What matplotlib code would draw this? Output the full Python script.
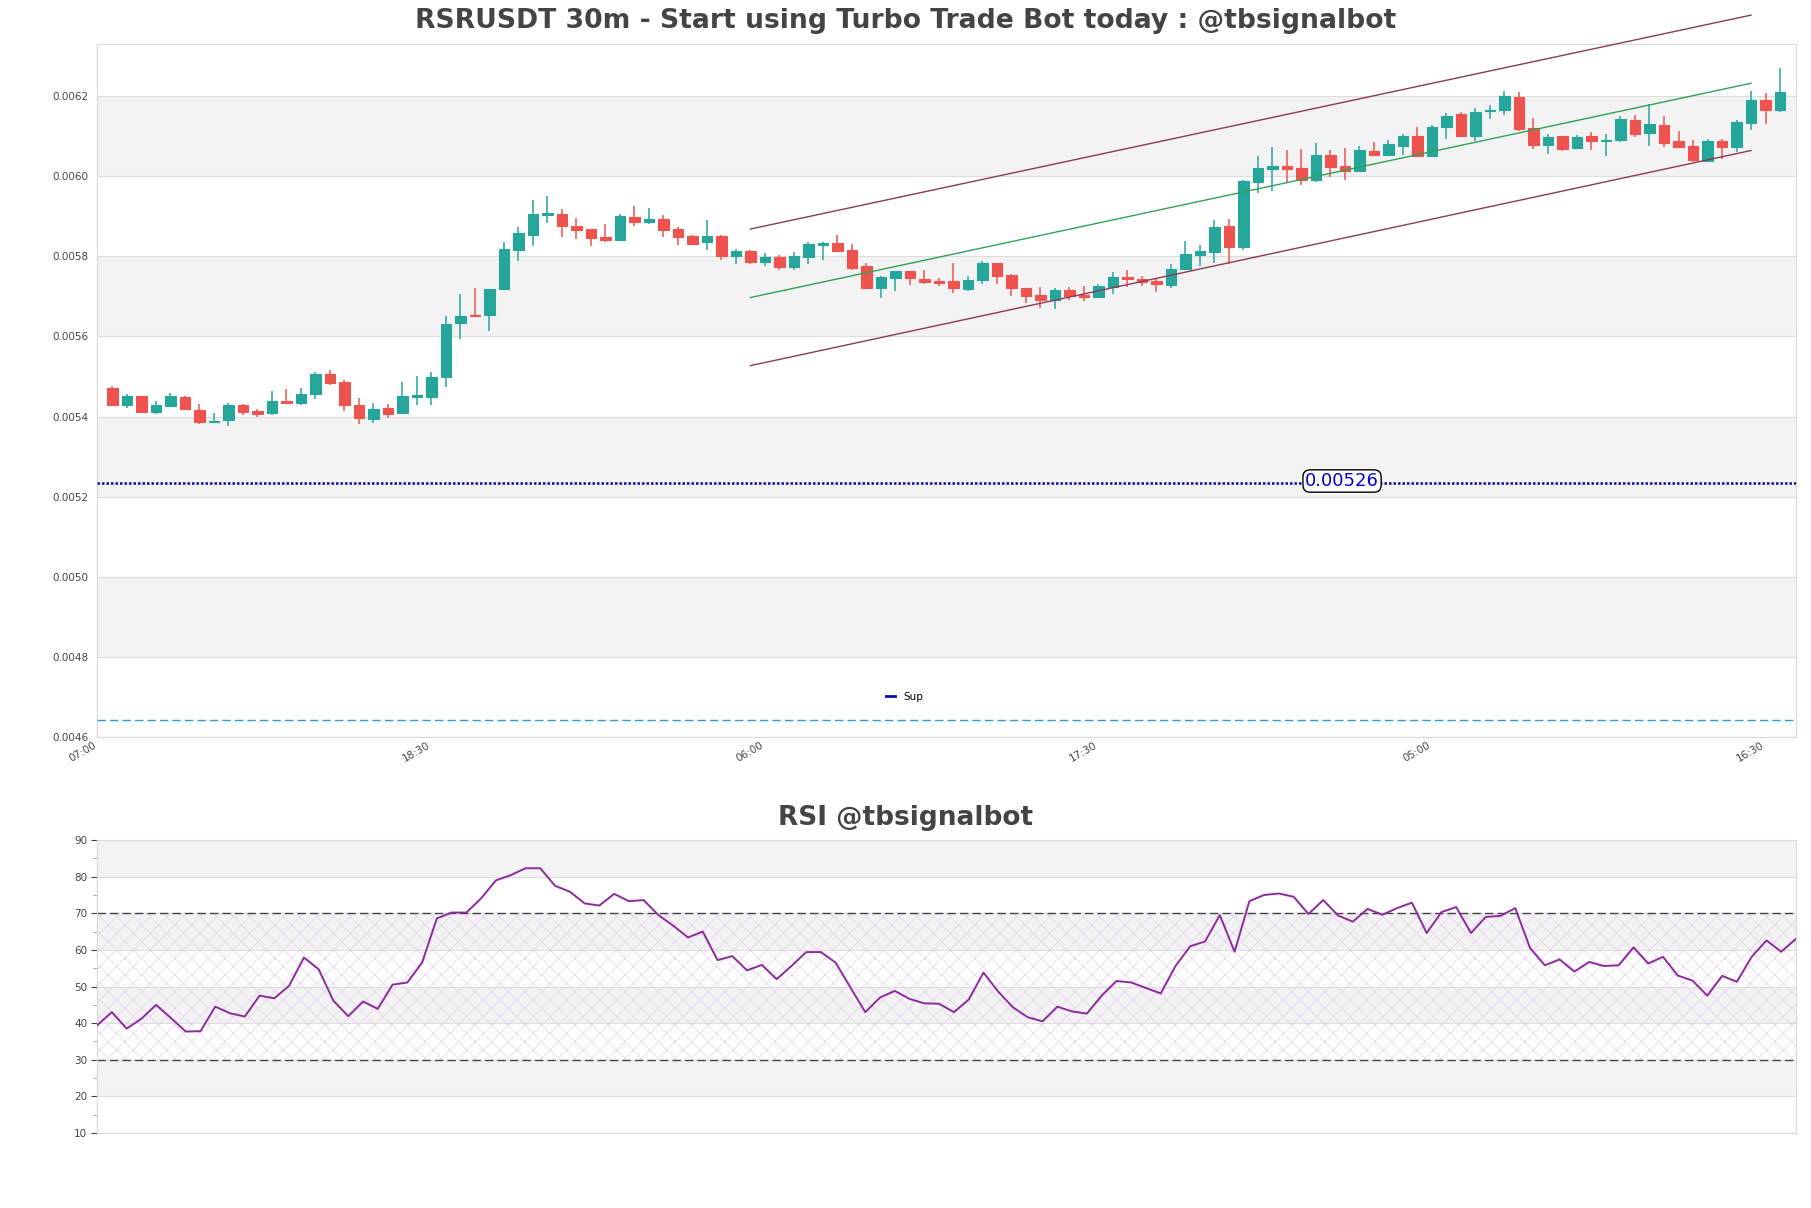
import numpy as np
import matplotlib
matplotlib.use('Agg')
import matplotlib.pyplot as plt
from matplotlib.lines import Line2D


# candle data (30m)
opens = [0.005470, 0.005428, 0.005450, 0.005411, 0.005426, 0.005448, 0.005417, 0.005386, 0.005391, 0.005428,
         0.005413, 0.005408, 0.005440, 0.005433, 0.005456, 0.005507, 0.005487, 0.005430, 0.005393, 0.005422,
         0.005408, 0.005448, 0.005448, 0.005498, 0.005633, 0.005653, 0.005653, 0.005718, 0.005816, 0.005853,
         0.005902, 0.005905, 0.005875, 0.005867, 0.005848, 0.005840, 0.005898, 0.005885, 0.005893, 0.005867,
         0.005850, 0.005836, 0.005850, 0.005801, 0.005813, 0.005786, 0.005798, 0.005773, 0.005798, 0.005828,
         0.005833, 0.005815, 0.005775, 0.005721, 0.005746, 0.005763, 0.005743, 0.005738, 0.005738, 0.005718,
         0.005741, 0.005783, 0.005753, 0.005720, 0.005703, 0.005691, 0.005715, 0.005703, 0.005698, 0.005723,
         0.005748, 0.005743, 0.005738, 0.005728, 0.005768, 0.005803, 0.005810, 0.005875, 0.005823, 0.005985,
         0.006018, 0.006025, 0.006020, 0.005990, 0.006053, 0.006025, 0.006013, 0.006063, 0.006053, 0.006075,
         0.006100, 0.006051, 0.006122, 0.006155, 0.006100, 0.006163, 0.006165, 0.006198, 0.006120, 0.006078,
         0.006100, 0.006070, 0.006100, 0.006088, 0.006090, 0.006140, 0.006108, 0.006128, 0.006088, 0.006075,
         0.006038, 0.006088, 0.006073, 0.006133, 0.006190, 0.006165]
highs = [0.005475, 0.005455, 0.005452, 0.005439, 0.005458, 0.005450, 0.005432, 0.005410, 0.005435, 0.005432,
         0.005419, 0.005463, 0.005468, 0.005470, 0.005512, 0.005515, 0.005492, 0.005447, 0.005435, 0.005432,
         0.005485, 0.005500, 0.005510, 0.005652, 0.005705, 0.005720, 0.005719, 0.005835, 0.005873, 0.005940,
         0.005951, 0.005917, 0.005895, 0.005867, 0.005880, 0.005905, 0.005925, 0.005920, 0.005902, 0.005872,
         0.005852, 0.005890, 0.005852, 0.005818, 0.005816, 0.005808, 0.005803, 0.005810, 0.005835, 0.005835,
         0.005853, 0.005830, 0.005783, 0.005750, 0.005763, 0.005763, 0.005765, 0.005745, 0.005783, 0.005750,
         0.005788, 0.005783, 0.005755, 0.005720, 0.005723, 0.005720, 0.005723, 0.005725, 0.005730, 0.005760,
         0.005765, 0.005750, 0.005746, 0.005780, 0.005838, 0.005828, 0.005890, 0.005893, 0.005990, 0.006050,
         0.006073, 0.006065, 0.006068, 0.006083, 0.006065, 0.006070, 0.006075, 0.006085, 0.006090, 0.006105,
         0.006123, 0.006128, 0.006158, 0.006160, 0.006170, 0.006177, 0.006213, 0.006210, 0.006145, 0.006105,
         0.006100, 0.006103, 0.006110, 0.006105, 0.006150, 0.006153, 0.006180, 0.006150, 0.006113, 0.006090,
         0.006093, 0.006093, 0.006140, 0.006213, 0.006208, 0.006270]
lows = [0.005426, 0.005421, 0.005409, 0.005406, 0.005424, 0.005418, 0.005381, 0.005384, 0.005376, 0.005403,
        0.005398, 0.005403, 0.005433, 0.005428, 0.005443, 0.005478, 0.005413, 0.005381, 0.005383, 0.005396,
        0.005406, 0.005428, 0.005428, 0.005473, 0.005593, 0.005650, 0.005613, 0.005718, 0.005788, 0.005826,
        0.005883, 0.005848, 0.005843, 0.005826, 0.005836, 0.005840, 0.005876, 0.005881, 0.005848, 0.005828,
        0.005831, 0.005816, 0.005791, 0.005781, 0.005781, 0.005776, 0.005766, 0.005766, 0.005781, 0.005791,
        0.005810, 0.005766, 0.005721, 0.005696, 0.005713, 0.005728, 0.005731, 0.005726, 0.005708, 0.005713,
        0.005731, 0.005731, 0.005701, 0.005683, 0.005671, 0.005668, 0.005691, 0.005688, 0.005698, 0.005706,
        0.005723, 0.005726, 0.005711, 0.005721, 0.005768, 0.005775, 0.005783, 0.005780, 0.005815, 0.005958,
        0.005963, 0.005985, 0.005978, 0.005985, 0.005998, 0.005990, 0.006013, 0.006050, 0.006053, 0.006053,
        0.006051, 0.006051, 0.006093, 0.006098, 0.006088, 0.006143, 0.006153, 0.006113, 0.006068, 0.006055,
        0.006063, 0.006070, 0.006065, 0.006050, 0.006085, 0.006098, 0.006075, 0.006073, 0.006070, 0.006035,
        0.006038, 0.006043, 0.006060, 0.006115, 0.006130, 0.006160]
closes = [0.005428, 0.005450, 0.005411, 0.005428, 0.005450, 0.005418, 0.005386, 0.005390, 0.005428, 0.005411,
          0.005406, 0.005440, 0.005433, 0.005455, 0.005507, 0.005483, 0.005428, 0.005396, 0.005420, 0.005406,
          0.005450, 0.005453, 0.005498, 0.005632, 0.005652, 0.005650, 0.005718, 0.005818, 0.005858, 0.005905,
          0.005907, 0.005876, 0.005866, 0.005846, 0.005841, 0.005900, 0.005885, 0.005893, 0.005865, 0.005848,
          0.005831, 0.005850, 0.005801, 0.005812, 0.005786, 0.005798, 0.005773, 0.005800, 0.005830, 0.005833,
          0.005813, 0.005771, 0.005721, 0.005748, 0.005763, 0.005746, 0.005736, 0.005733, 0.005721, 0.005740,
          0.005783, 0.005751, 0.005721, 0.005701, 0.005691, 0.005715, 0.005701, 0.005698, 0.005725, 0.005748,
          0.005743, 0.005736, 0.005730, 0.005768, 0.005805, 0.005813, 0.005873, 0.005823, 0.005988, 0.006020,
          0.006025, 0.006018, 0.005990, 0.006053, 0.006023, 0.006013, 0.006065, 0.006053, 0.006080, 0.006100,
          0.006051, 0.006123, 0.006150, 0.006100, 0.006160, 0.006166, 0.006200, 0.006118, 0.006078, 0.006098,
          0.006068, 0.006098, 0.006088, 0.006090, 0.006143, 0.006105, 0.006130, 0.006083, 0.006073, 0.006040,
          0.006088, 0.006073, 0.006135, 0.006190, 0.006165, 0.006210]

rsi = [39.4, 43.0, 38.5, 41.2, 45.0, 41.4, 37.7, 37.8, 44.5, 42.7,
       41.8, 47.5, 46.8, 50.2, 57.9, 54.7, 46.1, 41.9, 45.9, 43.9,
       50.5, 51.1, 56.5, 68.6, 70.2, 70.2, 74.1, 79.0, 80.4, 82.3,
       82.3, 77.5, 75.9, 72.7, 72.1, 75.3, 73.3, 73.6, 69.5, 66.6,
       63.4, 65.0, 57.2, 58.3, 54.4, 55.9, 52.0, 55.6, 59.4, 59.4,
       56.5, 49.7, 43.0, 47.0, 48.8, 46.6, 45.4, 45.3, 43.0, 46.4,
       53.8, 48.6, 44.3, 41.6, 40.5, 44.5, 43.2, 42.6, 47.5, 51.5,
       51.1, 49.6, 48.1, 55.6, 61.0, 62.3, 69.5, 59.5, 73.3, 75.0,
       75.4, 74.5, 69.8, 73.6, 69.4, 67.7, 71.2, 69.6, 71.4, 72.9,
       64.6, 70.3, 71.7, 64.6, 69.0, 69.3, 71.4, 60.5, 55.8, 57.4,
       54.1, 56.7, 55.6, 55.8, 60.7, 56.3, 58.1, 53.0, 51.6, 47.5,
       52.9, 51.3, 58.1, 62.6, 59.5, 63.0]

tick_pos = [-1, 22, 45, 68, 91, 114]
tick_labels = ['07:00', '18:30', '06:00', '17:30', '05:00', '16:30']
price_ticks = [0.0046, 0.0048, 0.0050, 0.0052, 0.0054, 0.0056, 0.0058, 0.0060, 0.0062]
price_bands = [(0.0048, 0.0050), (0.0052, 0.0054), (0.0056, 0.0058), (0.0060, 0.0062)]

# regression channel
channel_x = [44, 113]
channel_upper = [0.005868, 0.006402]
channel_mid = [0.005697, 0.006232]
channel_lower = [0.005527, 0.006064]

sup_level = 0.005235
sup_text = '0.00526'
sup_text_x = 84.8
low_level = 0.004643

rsi_ticks = [10, 20, 30, 40, 50, 60, 70, 80, 90]
rsi_bands = [(20, 30), (40, 50), (60, 70), (80, 90)]

up_color = '#26a69a'
down_color = '#ef5350'
band_color = '#f3f3f3'
grid_color = '#dddddd'
text_color = '#444444'

plt.rcParams['hatch.linewidth'] = 0.5

fig = plt.figure(figsize=(18.11, 12.08), dpi=100)

'''
*************
Price panel
*************
'''
ax = fig.add_axes([0.0536, 0.3899, 0.9381, 0.5737])
x = np.arange(len(opens))
o = np.array(opens)
c = np.array(closes)
colors = [up_color if c[i] >= o[i] else down_color for i in range(len(o))]

for lo, hi in price_bands:
    ax.axhspan(lo, hi, color=band_color, zorder=0, lw=0)
for p in price_ticks:
    ax.axhline(p, color=grid_color, lw=0.8, zorder=0.5)

ax.vlines(x, lows, highs, colors=colors, lw=1.1, zorder=2)
ax.bar(x, np.abs(c - o), bottom=np.minimum(o, c), width=0.72, color=colors,
       edgecolor=colors, linewidth=0.8, zorder=3)

ax.plot(channel_x, channel_upper, color='#8c3b57', lw=1.0, zorder=4, clip_on=False)
ax.plot(channel_x, channel_mid, color='#2ea356', lw=1.0, zorder=4)
ax.plot(channel_x, channel_lower, color='#8c3b57', lw=1.0, zorder=4)

ax.axhline(sup_level, color='#0a0aa8', lw=1.8, linestyle=(0, (1, 0.8)), zorder=4)
ax.axhline(low_level, color='#2e9be0', lw=1.0, linestyle=(0, (6, 3)), zorder=4)
ax.text(sup_text_x, sup_level + 0.000004, sup_text, color='#0000dd', fontsize=13, ha='center', va='center',
        zorder=6, bbox=dict(boxstyle='round,pad=0.12,rounding_size=0.4', fc='white', ec='black', lw=1.0))

handle = Line2D([], [], color='#0a0aa8', lw=2)
ax.legend([handle], ['Sup'], loc='lower left', bbox_to_anchor=(0.459, 0.037), frameon=False,
          fontsize=7.5, handlelength=0.8, handletextpad=0.8)

ax.set_xlim(-1.05, 116.1)
ax.set_ylim(0.0046, 0.00633)
ax.set_yticks(price_ticks)
ax.set_yticklabels(['%.4f' % p for p in price_ticks])
ax.set_xticks(tick_pos)
ax.set_xticklabels(tick_labels, rotation=30, ha='right')
ax.tick_params(axis='y', length=0, labelsize=7.5, colors=text_color, pad=6)
ax.tick_params(axis='x', length=0, labelsize=7.5, colors=text_color, pad=2)
for s in ax.spines.values():
    s.set_color('#d8d8d8')

fig.text(0.5, 1 - 21 / 1208, 'RSRUSDT 30m - Start using Turbo Trade Bot today : @tbsignalbot',
         ha='center', va='center', fontsize=19.2, fontweight='bold', color=text_color)

'''
*************
RSI panel
*************
'''
ax2 = fig.add_axes([0.0536, 0.0621, 0.9381, 0.2425])
for lo, hi in rsi_bands:
    ax2.axhspan(lo, hi, color=band_color, zorder=0, lw=0)
for t in rsi_ticks:
    ax2.axhline(t, color=grid_color, lw=0.8, zorder=0.5)
ax2.fill_between([0, len(rsi) - 1], 30, 70, facecolor='none', edgecolor='#e2d2ea',
                 hatch='xx', lw=0, zorder=1)
ax2.axhline(70, color='#444444', lw=1.0, linestyle=(0, (6, 3)), zorder=2)
ax2.axhline(30, color='#444444', lw=1.0, linestyle=(0, (6, 3)), zorder=2)
ax2.plot(np.arange(len(rsi)), rsi, color='#8e2a9e', lw=1.4, zorder=3)

ax2.set_xlim(0, len(rsi) - 1)
ax2.set_ylim(10, 90)
ax2.set_yticks(rsi_ticks)
ax2.set_yticks([15, 25, 35, 45, 55, 65, 75, 85], minor=True)
ax2.set_xticks([])
ax2.tick_params(axis='y', which='major', length=4, labelsize=7.5, colors=text_color, pad=3)
ax2.tick_params(axis='y', which='minor', length=3, colors='#999999')
for s in ax2.spines.values():
    s.set_color('#d8d8d8')

fig.text(0.5, 1 - 818 / 1208, 'RSI @tbsignalbot', ha='center', va='center',
         fontsize=19, fontweight='bold', color=text_color)

plt.savefig('out.png', dpi=100)
